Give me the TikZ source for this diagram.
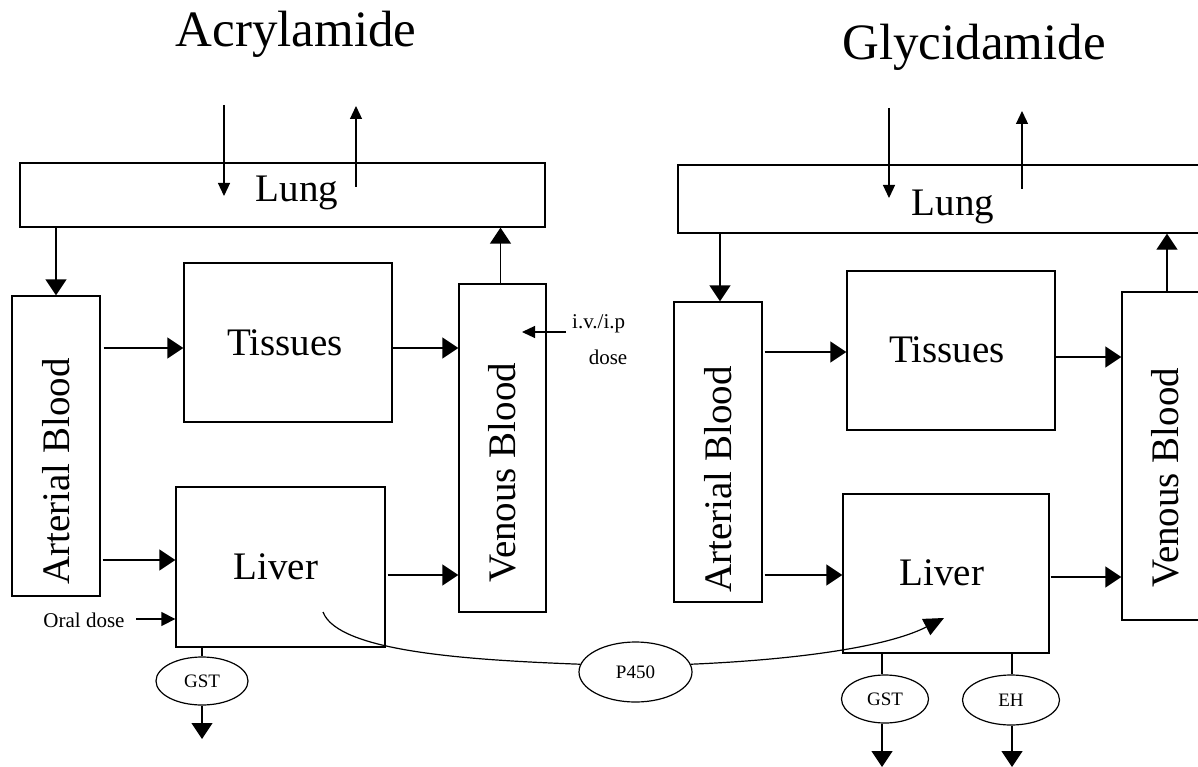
\documentclass[tikz,border=0pt]{standalone}
\usepackage{fontspec}
\setmainfont{Liberation Serif}
\usetikzlibrary{arrows.meta,shapes.geometric,calc}
\begin{document}
\begin{tikzpicture}[x=1pt,y=-1pt,
  box/.style={draw,line width=1.3pt,inner sep=0pt,fill=none},
  oval/.style={draw,ellipse,line width=1.2pt,inner sep=0pt,font=\fontsize{19}{22}\selectfont},
  title/.style={font=\fontsize{51}{60}\selectfont,anchor=base,inner sep=0pt},
  lbl/.style={font=\fontsize{39}{46}\selectfont,anchor=base,inner sep=0pt},
  vlbl/.style={font=\fontsize{39}{46}\selectfont,anchor=base west,rotate=90,inner sep=0pt},
  small/.style={font=\fontsize{21}{24}\selectfont,inner sep=0pt},
  conn/.style={line width=1.3pt},
  bigarrow/.style={line width=1.3pt,-{Triangle[length=16pt,width=21pt]}},
  midarrow/.style={line width=1.3pt,-{Triangle[length=14pt,width=14pt]}},
  smallarrow/.style={line width=1.2pt,-{Triangle[length=13pt,width=12pt]}}]
\useasboundingbox (0,0) rectangle (1198,767);
\clip (0,0) rectangle (1198,767);

% ---------------- Acrylamide ----------------
\node[title] (tA) at (296,47) {Acrylamide};
\node[box,minimum width=525pt,minimum height=64pt] (lungA) at (282.5,195) {};
\node[lbl] (lungAt) at (297,202) {Lung};
\node[box,minimum width=88pt,minimum height=300pt] (artA) at (56,446) {};
\node[vlbl] (artAt) at (69,585) {Arterial Blood};
\node[box,minimum width=208pt,minimum height=159pt] (tisA) at (288,342.5) {};
\node[lbl] (tisAt) at (285,355) {Tissues};
\node[box,minimum width=87pt,minimum height=328pt] (venA) at (502.5,448) {};
\node[vlbl] (venAt) at (515,583) {Venous Blood};
\node[box,minimum width=209pt,minimum height=160pt] (livA) at (280.5,567) {};
\node[lbl] (livAt) at (276,579) {Liver};
\node[oval,minimum width=92pt,minimum height=48pt] (gstA) at (202,681) {GST};
\node[small,anchor=base] (oral) at (84,627) {Oral dose};
\node[small,anchor=base west] (iv) at (572,328) {i.v./i.p};
\node[small,anchor=base] (dose) at (608,364) {dose};

\coordinate (inA1) at (224,105);
\coordinate (inA2) at (224,196);
\coordinate (outA1) at (356,187);
\coordinate (outA2) at (356,106);
\coordinate (ivA1) at (566,332);
\coordinate (ivA2) at (522,332);
\coordinate (oralA) at (136,619);
\coordinate (gstAend) at (202,739);

\draw[smallarrow] (inA1) -- (inA2);
\draw[smallarrow] (outA1) -- (outA2);
\draw[bigarrow] (artA.north |- lungA.south) -- (artA.north);
\draw[bigarrow] ($(venA.north)+(-2,0)$) -- ($(venA.north |- lungA.south)+(-2,0)$);
\draw[bigarrow] ($(artA.east |- tisA.west)+(3,5.5)$) -- ($(tisA.west)+(0,5.5)$);
\draw[bigarrow] ($(tisA.east)+(0,5.5)$) -- ($(tisA.east -| venA.west)+(0,5.5)$);
\draw[bigarrow] ($(artA.east |- livA.west)+(2,-7)$) -- ($(livA.west)+(0,-7)$);
\draw[bigarrow] ($(livA.east)+(2,8)$) -- ($(livA.east -| venA.west)+(0,8)$);
\draw[midarrow] (oralA) -- (oralA -| livA.west);
\draw[smallarrow] (ivA1) -- (ivA2);
\draw[conn] (gstA.north |- livA.south) -- (gstA.north);
\draw[bigarrow] (gstA.south) -- (gstAend);

% ---------------- P450 link ----------------
\node[oval,minimum width=113pt,minimum height=60pt] (p450) at (635.5,672) {P450};
\coordinate (p450s) at (323,612);
\coordinate (p450e) at (944,618);
\draw[line width=1.2pt] (p450s) .. controls (338,652) and (470,660) .. (p450.172);
\draw[line width=1.2pt,-{Triangle[length=20pt,width=18pt]}] (p450.8) .. controls (790,660) and (885,648) .. (p450e);

% ---------------- Glycidamide ----------------
\node[title] (tB) at (974,60) {Glycidamide};
\node[box,minimum width=537pt,minimum height=68pt] (lungB) at (946.5,199) {};
\node[lbl] (lungBt) at (953,216) {Lung};
\node[box,minimum width=88pt,minimum height=300pt] (artB) at (718,452) {};
\node[vlbl] (artBt) at (731,593) {Arterial Blood};
\node[box,minimum width=208pt,minimum height=159pt] (tisB) at (951,350.5) {};
\node[lbl] (tisBt) at (947,362) {Tissues};
\node[box,minimum width=87pt,minimum height=328pt] (venB) at (1165.5,456) {};
\node[vlbl] (venBt) at (1178,588) {Venous Blood};
\node[box,minimum width=206pt,minimum height=159pt] (livB) at (946,573.5) {};
\node[lbl] (livBt) at (942,585) {Liver};
\node[oval,minimum width=87pt,minimum height=48pt] (gstB) at (885,699) {GST};
\node[oval,minimum width=97pt,minimum height=50pt] (ehB) at (1011,700) {EH};

\coordinate (inB1) at (889,108);
\coordinate (inB2) at (889,198);
\coordinate (outB1) at (1022,189);
\coordinate (outB2) at (1022,111);
\coordinate (gstBend) at (882,767);
\coordinate (ehBend) at (1012,767);

\draw[smallarrow] (inB1) -- (inB2);
\draw[smallarrow] (outB1) -- (outB2);
\draw[bigarrow] ($(artB.north |- lungB.south)+(2,0)$) -- ($(artB.north)+(2,0)$);
\draw[bigarrow] ($(venB.north)+(1.5,0)$) -- ($(venB.north |- lungB.south)+(1.5,0)$);
\draw[bigarrow] ($(artB.east |- tisB.west)+(2,1.5)$) -- ($(tisB.west)+(0,1.5)$);
\draw[bigarrow] ($(tisB.east)+(0,6.5)$) -- ($(tisB.east -| venB.west)+(0,6.5)$);
\draw[bigarrow] ($(artB.east |- livB.west)+(2,1.5)$) -- ($(livB.west)+(0,1.5)$);
\draw[bigarrow] ($(livB.east)+(1,3.5)$) -- ($(livB.east -| venB.west)+(0,3.5)$);
\draw[conn] (gstBend |- livB.south) -- (gstBend |- gstB.north);
\draw[bigarrow] (gstBend |- gstB.south) -- (gstBend);
\draw[conn] (ehBend |- livB.south) -- (ehBend |- ehB.north);
\draw[bigarrow] (ehBend |- ehB.south) -- (ehBend);
\end{tikzpicture}
\end{document}
